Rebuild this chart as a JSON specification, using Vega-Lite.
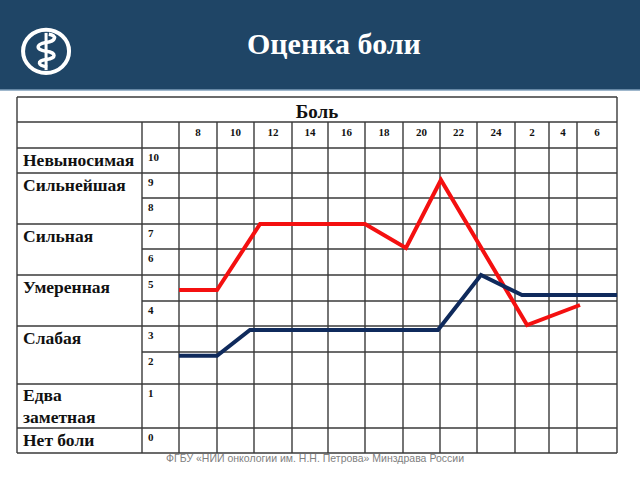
{
  "$schema": "https://vega.github.io/schema/vega-lite/v6.json",
  "width": 640,
  "height": 480,
  "autosize": {"type": "none"},
  "padding": 0,
  "background": "white",
  "config": {"view": {"stroke": null}},
  "layer": [
    {
      "data": {"values": [{"part": "header"}]},
      "mark": {"type": "rect", "color": "#1f4566"},
      "encoding": {
        "x": {"datum": 0, "type": "quantitative", "axis": null,
          "scale": {"type": "linear", "domain": [0, 2, 6, 8, 10, 12, 14, 16, 18, 20, 22, 24, 26, 28, 30, 32, 34], "range": [0, 17, 142, 179, 217, 254, 292, 328, 365, 403, 440, 477, 515, 549, 577, 617, 640], "nice": false, "zero": false}},
        "x2": {"datum": 34},
        "y": {"datum": 14, "type": "quantitative", "axis": null,
          "scale": {"type": "linear", "domain": [-1, 0, 1, 2, 3, 4, 5, 6, 7, 8, 9, 10, 11, 12, 13, 14, 15], "range": [480, 453, 428, 384, 352, 326, 301, 275, 249, 224, 198, 173, 148, 122, 97, 90, 0], "nice": false, "zero": false}},
        "y2": {"datum": 15}
      }
    },
    {
      "data": {"values": [{"part": "header edge"}]},
      "mark": {"type": "rule", "color": "#7f9fbb", "strokeWidth": 1.5},
      "encoding": {
        "x": {"datum": 0, "type": "quantitative", "axis": null},
        "x2": {"datum": 34},
        "y": {"datum": 14, "type": "quantitative", "axis": null}
      }
    },
    {
      "data": {"values": [
        {"level": 13, "from": 2, "to": 32},
        {"level": 12, "from": 2, "to": 32},
        {"level": 11, "from": 2, "to": 32},
        {"level": 10, "from": 2, "to": 32},
        {"level": 9, "from": 6, "to": 32},
        {"level": 8, "from": 2, "to": 32},
        {"level": 7, "from": 6, "to": 32},
        {"level": 6, "from": 2, "to": 32},
        {"level": 5, "from": 6, "to": 32},
        {"level": 4, "from": 2, "to": 32},
        {"level": 3, "from": 6, "to": 32},
        {"level": 2, "from": 2, "to": 32},
        {"level": 1, "from": 2, "to": 32},
        {"level": 0, "from": 2, "to": 32}
      ]},
      "mark": {"type": "rule", "color": "#3a3a3a", "strokeWidth": 1.4},
      "encoding": {
        "x": {"field": "from", "type": "quantitative", "axis": null},
        "x2": {"field": "to"},
        "y": {"field": "level", "type": "quantitative", "axis": null}
      }
    },
    {
      "data": {"values": [
        {"hour": 2, "low": 0, "high": 13},
        {"hour": 6, "low": 0, "high": 12},
        {"hour": 8, "low": 0, "high": 12},
        {"hour": 10, "low": 0, "high": 12},
        {"hour": 12, "low": 0, "high": 12},
        {"hour": 14, "low": 0, "high": 12},
        {"hour": 16, "low": 0, "high": 12},
        {"hour": 18, "low": 0, "high": 12},
        {"hour": 20, "low": 0, "high": 12},
        {"hour": 22, "low": 0, "high": 12},
        {"hour": 24, "low": 0, "high": 12},
        {"hour": 26, "low": 0, "high": 12},
        {"hour": 28, "low": 0, "high": 12},
        {"hour": 30, "low": 0, "high": 12},
        {"hour": 32, "low": 0, "high": 13}
      ]},
      "mark": {"type": "rule", "color": "#3a3a3a", "strokeWidth": 1.4},
      "encoding": {
        "x": {"field": "hour", "type": "quantitative", "axis": null},
        "y": {"field": "low", "type": "quantitative", "axis": null},
        "y2": {"field": "high"}
      }
    },
    {
      "data": {"values": [
        {"series": "A", "hour": 8, "pain": 5.42},
        {"series": "A", "hour": 10, "pain": 5.42},
        {"series": "A", "hour": 12.32, "pain": 8},
        {"series": "A", "hour": 18, "pain": 8},
        {"series": "A", "hour": 20.16, "pain": 7.04},
        {"series": "A", "hour": 22.05, "pain": 9.72},
        {"series": "A", "hour": 26.71, "pain": 4.04},
        {"series": "A", "hour": 30.15, "pain": 4.84},
        {"series": "B", "hour": 8, "pain": 2.88},
        {"series": "B", "hour": 10, "pain": 2.88},
        {"series": "B", "hour": 11.78, "pain": 3.85},
        {"series": "B", "hour": 21.89, "pain": 3.85},
        {"series": "B", "hour": 24.21, "pain": 6.0},
        {"series": "B", "hour": 26.41, "pain": 5.23},
        {"series": "B", "hour": 32, "pain": 5.23}
      ]},
      "mark": {"type": "line", "strokeWidth": 4},
      "encoding": {
        "x": {"field": "hour", "type": "quantitative", "axis": null},
        "y": {"field": "pain", "type": "quantitative", "axis": null},
        "color": {"field": "series", "type": "nominal", "legend": null,
          "scale": {"domain": ["A", "B"], "range": ["#f41010", "#0f2a5c"]}}
      }
    },
    {
      "data": {"values": [{"label": "Боль"}]},
      "mark": {"type": "text", "font": "Liberation Serif", "fontWeight": "bold", "fontSize": 19, "align": "center", "baseline": "alphabetic", "color": "#111111"},
      "encoding": {
        "x": {"datum": 15.39, "type": "quantitative", "axis": null},
        "y": {"datum": 12.16, "type": "quantitative", "axis": null},
        "text": {"field": "label"}
      }
    },
    {
      "data": {"values": [
        {"label": "8", "hour": 9}, {"label": "10", "hour": 11}, {"label": "12", "hour": 13},
        {"label": "14", "hour": 15}, {"label": "16", "hour": 17}, {"label": "18", "hour": 19},
        {"label": "20", "hour": 21}, {"label": "22", "hour": 23}, {"label": "24", "hour": 25},
        {"label": "2", "hour": 27}, {"label": "4", "hour": 29}, {"label": "6", "hour": 31}
      ]},
      "mark": {"type": "text", "font": "Liberation Serif", "fontWeight": "bold", "fontSize": 11, "align": "center", "baseline": "alphabetic", "color": "#111111"},
      "encoding": {
        "x": {"field": "hour", "type": "quantitative", "axis": null},
        "y": {"datum": 11.46, "type": "quantitative", "axis": null},
        "text": {"field": "label"}
      }
    },
    {
      "data": {"values": [
        {"score": "10", "rowTop": 11}, {"score": "9", "rowTop": 10}, {"score": "8", "rowTop": 9},
        {"score": "7", "rowTop": 8}, {"score": "6", "rowTop": 7}, {"score": "5", "rowTop": 6},
        {"score": "4", "rowTop": 5}, {"score": "3", "rowTop": 4}, {"score": "2", "rowTop": 3},
        {"score": "1", "rowTop": 2}, {"score": "0", "rowTop": 1}
      ]},
      "mark": {"type": "text", "font": "Liberation Serif", "fontWeight": "bold", "fontSize": 11, "align": "left", "baseline": "top", "dx": 6, "dy": 4, "color": "#111111"},
      "encoding": {
        "x": {"datum": 6, "type": "quantitative", "axis": null},
        "y": {"field": "rowTop", "type": "quantitative", "axis": null},
        "text": {"field": "score"}
      }
    },
    {
      "data": {"values": [
        {"label": "Невыносимая", "mid": 10.5},
        {"label": "Сильнейшая", "mid": 9.5},
        {"label": "Сильная", "mid": 7.5},
        {"label": "Умеренная", "mid": 5.5},
        {"label": "Слабая", "mid": 3.5},
        {"label": "Едва\nзаметная", "mid": 1.73},
        {"label": "Нет боли", "mid": 0.5}
      ]},
      "mark": {"type": "text", "font": "Liberation Serif", "fontWeight": "bold", "fontSize": 17.5, "align": "left", "baseline": "middle", "dx": 6, "lineBreak": "\n", "lineHeight": 22, "color": "#111111"},
      "encoding": {
        "x": {"datum": 2, "type": "quantitative", "axis": null},
        "y": {"field": "mid", "type": "quantitative", "axis": null},
        "text": {"field": "label"}
      }
    },
    {
      "data": {"values": [{"label": "Оценка боли"}]},
      "mark": {"type": "text", "font": "Liberation Serif", "fontWeight": "bold", "fontSize": 30, "align": "center", "baseline": "alphabetic", "color": "#ffffff"},
      "encoding": {
        "x": {"datum": 16.32, "type": "quantitative", "axis": null},
        "y": {"datum": 14.4, "type": "quantitative", "axis": null},
        "text": {"field": "label"}
      }
    },
    {
      "data": {"values": [{"label": "ФГБУ «НИИ онкологии им. Н.Н. Петрова» Минздрава России"}]},
      "mark": {"type": "text", "font": "Liberation Sans", "fontSize": 10.5, "align": "center", "baseline": "middle", "color": "#7f7f7f"},
      "encoding": {
        "x": {"datum": 15.28, "type": "quantitative", "axis": null},
        "y": {"datum": -0.22, "type": "quantitative", "axis": null},
        "text": {"field": "label"}
      }
    },
    {
      "data": {"values": [
        {"part": "ring", "path": "M-1,0A1,0.94,0,1,1,1,0A1,0.94,0,1,1,-1,0Z", "w": 4},
        {"part": "staff", "path": "M0,-0.8L0,0.82", "w": 3},
        {"part": "snake", "path": "M0.12,-0.74C0.5,-0.68 0.42,-0.44 0,-0.38C-0.46,-0.3 -0.46,-0.06 0,0C0.46,0.06 0.46,0.3 0,0.36C-0.42,0.42 -0.36,0.62 0.05,0.68", "w": 3.5}
      ]},
      "mark": {"type": "point", "filled": false, "color": "#ffffff", "size": 2116, "opacity": 1},
      "encoding": {
        "x": {"datum": 2.93, "type": "quantitative", "axis": null},
        "y": {"datum": 14.43, "type": "quantitative", "axis": null},
        "shape": {"field": "path", "type": "nominal", "scale": null, "legend": null},
        "strokeWidth": {"field": "w", "type": "quantitative", "scale": null, "legend": null}
      }
    }
  ]
}
